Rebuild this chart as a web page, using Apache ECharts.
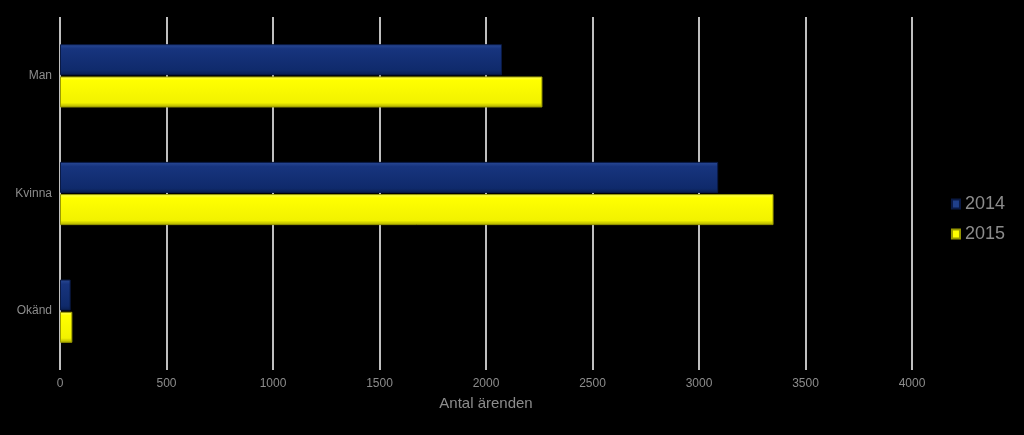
<!DOCTYPE html>
<html><head><meta charset="utf-8">
<script src="https://cdn.jsdelivr.net/npm/echarts@6/dist/echarts.min.js"></script>
<style>html,body{margin:0;padding:0;background:#000;}#c{width:1024px;height:435px;}</style>
</head><body><div id="c"></div>
<script>
const categories = ['Man', 'Kvinna', 'Okänd'];
const values2014 = [2075, 3090, 50];
const values2015 = [2265, 3350, 58];
const seriesNames = ['2014', '2015'];
const xTicks = [0, 500, 1000, 1500, 2000, 2500, 3000, 3500, 4000];

const blue = new echarts.graphic.LinearGradient(0,0,0,1,[
  {offset:0,color:'#2a4a96'},{offset:0.15,color:'#17347e'},{offset:0.85,color:'#0f2a6b'},{offset:1,color:'#0a1e50'}]);
const yellow = new echarts.graphic.LinearGradient(0,0,0,1,[
  {offset:0,color:'#ffff66'},{offset:0.12,color:'#ffff00'},{offset:0.85,color:'#f2f200'},{offset:1,color:'#a8a800'}]);

const chart = echarts.init(document.getElementById('c'));
chart.setOption({
  backgroundColor:'#000',
  animation:false,
  grid:{left:60,right:112,top:17,bottom:65},
  legend:{
    orient:'vertical', right:14, top:190, itemWidth:8, itemHeight:9, itemGap:12,
    icon:'rect',
    textStyle:{color:'#8c8c8c',fontSize:18,fontFamily:'Liberation Sans, Arial'},
    data:[{name:'2014',itemStyle:{color:'#1f3f8a'}},{name:'2015',itemStyle:{color:'#ffff00'}}]
  },
  xAxis:{
    type:'value', min:xTicks[0], max:xTicks[xTicks.length-1], interval:500,
    name:'Antal ärenden', nameLocation:'middle', nameGap:26,
    nameTextStyle:{color:'#8c8c8c',fontSize:15,fontFamily:'Liberation Sans, Arial'},
    axisLine:{show:false}, axisTick:{show:false},
    axisLabel:{color:'#8c8c8c',fontSize:12,margin:8,fontFamily:'Liberation Sans, Arial',formatter:function(v){return String(v);}},
    splitLine:{show:true,lineStyle:{color:'#ffffff',width:1.5}}
  },
  yAxis:{
    type:'category', data:categories, inverse:true,
    axisLine:{show:false}, axisTick:{show:false},
    axisLabel:{color:'#8c8c8c',fontSize:12,margin:8,fontFamily:'Liberation Sans, Arial'}
  },
  series:[
    {name:seriesNames[0],type:'bar',data:values2014,barWidth:31,barGap:'4%',
     itemStyle:{color:blue,borderColor:'#0a1a45',borderWidth:1}},
    {name:seriesNames[1],type:'bar',data:values2015,barWidth:31,
     itemStyle:{color:yellow,borderColor:'#9a9a00',borderWidth:1}}
  ]
});
</script></body></html>
